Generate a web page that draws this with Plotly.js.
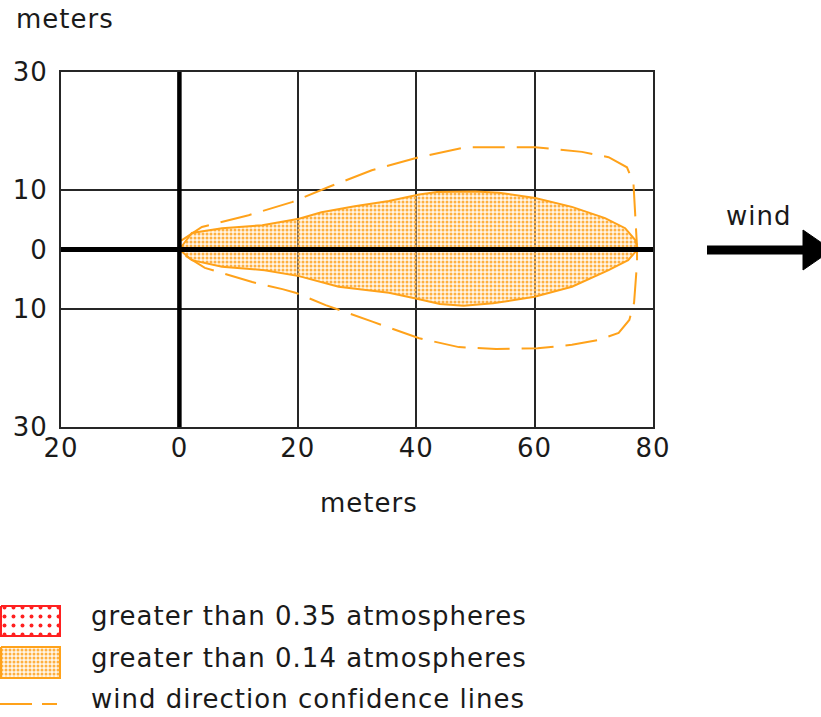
<!DOCTYPE html>
<html>
<head>
<meta charset="utf-8">
<script src="https://cdn.plot.ly/plotly-3.0.1.min.js"></script>
<style>
  html, body { margin: 0; padding: 0; background: #fff; }
  #chart { width: 821px; height: 717px; }
  svg text { letter-spacing: 1px; }
</style>
</head>
<body>
<div id="chart"></div>
<script>
// ---------- data ----------
const xTickVals = [-20, 0, 20, 40, 60, 80];
const xTickText = ['20', '0', '20', '40', '60', '80'];
const yTickVals = [-30, -10, 0, 10, 30];
const yTickText = ['30', '10', '0', '10', '30'];

// area greater than 0.14 atmospheres (upper and lower edge)
const plumeUpperX = [0, 2.1, 7.2, 14, 20.2, 24, 29.6, 35.4, 40.5, 43.5, 50, 54, 60.1, 66.3, 71.9, 75.3, 77, 77.4];
const plumeUpperY = [0, 2.8, 3.6, 4.1, 5.2, 6.3, 7.3, 8.2, 9.3, 9.7, 9.8, 9.6, 8.7, 7.2, 5.3, 3.6, 1.6, 0.2];
const plumeLowerX = [0, 2.1, 7.2, 14.4, 20.2, 26.9, 35.4, 40.5, 44, 48, 53, 60, 66.3, 72.5, 75.8, 77.3];
const plumeLowerY = [0, -1.8, -2.9, -3.5, -4.5, -6.3, -7.3, -8.4, -9.2, -9.5, -9.1, -8, -6.3, -3.5, -1.8, -0.1];

// wind direction confidence lines (upper and lower)
const confUpperX = [0.3, 3.8, 11.7, 19, 25.3, 32.5, 40.5, 48.4, 60.1, 68, 72.5, 75.6, 76.7, 77, 77.3];
const confUpperY = [1.5, 3.8, 5.8, 8, 10.6, 13.4, 15.6, 17.3, 17.3, 16.5, 15.6, 13.9, 11.2, 6.2, 0.4];
const confLowerX = [0.3, 4.3, 12.3, 17.4, 19.6, 24.7, 32.6, 40.5, 47.2, 53.5, 60.5, 66.3, 70.8, 74.2, 76, 76.8, 77.3];
const confLowerY = [-0.6, -3.1, -5.5, -6.7, -7.3, -9.4, -12.2, -15, -16.5, -16.8, -16.7, -16.1, -15.3, -14.1, -11.9, -9, -2.3];

const legendLabels = ['greater than 0.35 atmospheres', 'greater than 0.14 atmospheres', 'wind direction confidence lines'];
const axisTitle = 'meters';
const windLabel = 'wind';

// ---------- styles ----------
const W = 821, H = 717;
const FONT = 'DejaVu Sans, Verdana, sans-serif';
const TXT = '#1a1a1a';
const ORANGE = '#ffa21a';
const GRID = '#262626';
const plumePattern = { shape: '.', fgcolor: '#ffb040', bgcolor: 'rgba(255,228,190,0.35)', size: 4, solidity: 0.45 };

const plumeX = plumeUpperX.concat(plumeLowerX.slice().reverse());
const plumeY = plumeUpperY.concat(plumeLowerY.slice().reverse());
const confX = confUpperX.concat(confLowerX.slice().reverse());
const confY = confUpperY.concat(confLowerY.slice().reverse());

const traces = [
  { x: plumeX, y: plumeY, type: 'scatter', mode: 'lines', fill: 'toself',
    fillcolor: 'rgba(0,0,0,0)', fillpattern: plumePattern,
    line: { color: ORANGE, width: 2 }, hoverinfo: 'skip', name: legendLabels[1] },
  { x: confX, y: confY, type: 'scatter', mode: 'lines',
    line: { color: ORANGE, width: 2, dash: '32px,12px' }, hoverinfo: 'skip', name: legendLabels[2] },
  // legend swatches (pixel overlay axes)
  { x: [1, 60, 60, 1, 1], y: [606, 606, 636, 636, 606], xaxis: 'x2', yaxis: 'y2', type: 'scatter', mode: 'lines',
    fill: 'toself', fillcolor: 'rgba(0,0,0,0)',
    fillpattern: { shape: '.', fgcolor: '#ff2020', bgcolor: '#ffffff', size: 9, solidity: 0.15 },
    line: { color: '#ff2020', width: 2 }, hoverinfo: 'skip' },
  { x: [1, 60, 60, 1, 1], y: [647, 647, 678, 678, 647], xaxis: 'x2', yaxis: 'y2', type: 'scatter', mode: 'lines',
    fill: 'toself', fillcolor: 'rgba(0,0,0,0)', fillpattern: plumePattern,
    line: { color: ORANGE, width: 2 }, hoverinfo: 'skip' },
  { x: [0, 57], y: [704, 704], xaxis: 'x2', yaxis: 'y2', type: 'scatter', mode: 'lines',
    line: { color: ORANGE, width: 2, dash: '32px,10px' }, hoverinfo: 'skip' }
];

const annFont = { family: FONT, size: 26, color: TXT };

const layout = {
  width: W, height: H,
  margin: { l: 0, r: 0, t: 0, b: 0, pad: 0 },
  paper_bgcolor: '#ffffff', plot_bgcolor: 'rgba(0,0,0,0)',
  showlegend: false,
  font: { family: FONT, size: 26, color: TXT },
  xaxis: {
    domain: [61 / W, 653 / W], range: [-20, 80], anchor: 'y',
    tickmode: 'array', tickvals: xTickVals, ticktext: xTickText,
    showgrid: true, gridcolor: GRID, gridwidth: 2,
    showline: true, mirror: true, linecolor: GRID, linewidth: 2,
    zeroline: false, ticks: '', ticklabelstandoff: -3,
    tickfont: { family: FONT, size: 26, color: TXT }, fixedrange: true
  },
  yaxis: {
    domain: [(H - 427) / H, (H - 72) / H], range: [-30, 30], anchor: 'x',
    tickmode: 'array', tickvals: yTickVals, ticktext: yTickText,
    showgrid: true, gridcolor: GRID, gridwidth: 2,
    showline: true, mirror: true, linecolor: GRID, linewidth: 2,
    zeroline: false, ticks: '', ticklabelstandoff: 6,
    tickfont: { family: FONT, size: 26, color: TXT }, fixedrange: true
  },
  xaxis2: { domain: [0, 1], range: [0, W], anchor: 'y2', visible: false, fixedrange: true },
  yaxis2: { domain: [0, 1], range: [H, 0], anchor: 'x2', visible: false, fixedrange: true },
  shapes: [
    // thick zero lines (above traces)
    { type: 'line', xref: 'x domain', yref: 'y', x0: 0, x1: 1, y0: 0, y1: 0,
      line: { color: '#000', width: 5 }, layer: 'above' },
    { type: 'line', xref: 'x', yref: 'y domain', x0: 0, x1: 0, y0: 0, y1: 1,
      line: { color: '#000', width: 4.5 }, layer: 'above' },
    // wind arrow
    { type: 'line', xref: 'x2', yref: 'y2', x0: 707, x1: 812, y0: 250, y1: 250,
      line: { color: '#000', width: 9 } },
    { type: 'path', xref: 'x2', yref: 'y2', path: 'M 803 230 L 832 250 L 803 270 Z',
      fillcolor: '#000', line: { color: '#000', width: 1 } }
  ],
  annotations: [
    { xref: 'x2', yref: 'y2', x: 14, y: 19, text: axisTitle, showarrow: false,
      xanchor: 'left', yanchor: 'middle', font: annFont },
    { xref: 'x2', yref: 'y2', x: 369, y: 503, text: axisTitle, showarrow: false,
      xanchor: 'center', yanchor: 'middle', font: annFont },
    { xref: 'x2', yref: 'y2', x: 758, y: 216, text: windLabel, showarrow: false,
      xanchor: 'center', yanchor: 'middle', font: annFont },
    { xref: 'x2', yref: 'y2', x: 89, y: 616, text: legendLabels[0], showarrow: false,
      xanchor: 'left', yanchor: 'middle', font: annFont },
    { xref: 'x2', yref: 'y2', x: 89, y: 658, text: legendLabels[1], showarrow: false,
      xanchor: 'left', yanchor: 'middle', font: annFont },
    { xref: 'x2', yref: 'y2', x: 89, y: 699, text: legendLabels[2], showarrow: false,
      xanchor: 'left', yanchor: 'middle', font: annFont }
  ]
};

Plotly.newPlot('chart', traces, layout, { displayModeBar: false, staticPlot: true });
</script>
</body>
</html>
